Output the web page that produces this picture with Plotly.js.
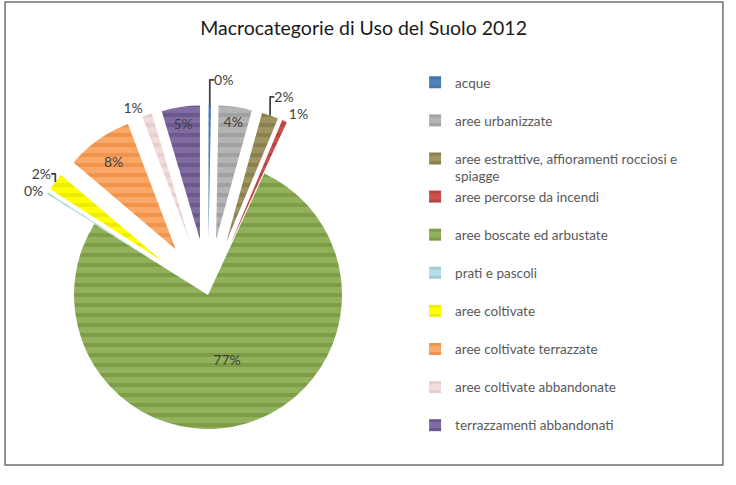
<!DOCTYPE html>
<html>
<head>
<meta charset="utf-8">
<script src="https://cdn.plot.ly/plotly-3.0.1.min.js"></script>
<style>
html,body{margin:0;padding:0;background:#fff;overflow:hidden;}
#chart{width:736px;height:485px;}
</style>
</head>
<body>
<div id="chart"></div>
<script>
var labels = [
  "acque",
  "aree urbanizzate",
  "aree estrattive, affioramenti rocciosi e<br>spiagge",
  "aree percorse da incendi",
  "aree boscate ed arbustate",
  "prati e pascoli",
  "aree coltivate",
  "aree coltivate terrazzate",
  "aree coltivate abbandonate",
  "terrazzamenti abbandonati"
];
var values = [0.3, 4.0, 2.0, 0.6, 77.0, 0.2, 2.1, 8.0, 1.2, 4.6];
var colors = ["#4F81BD", "#B4B4B4", "#9E9462", "#C9504D", "#92B15D", "#B7DEE8", "#FFFF00", "#FAA868", "#F2DCDB", "#806CA0"];
var stripe = ["#3F6EA8", "#989898", "#827846", "#B04040", "#76923C", "#9CC8D4", "#E6E600", "#EC8A3E", "#E2C8C7", "#634E86"];
var pulls = [0.418, 0.418, 0.418, 0.418, 0, 0.418, 0.418, 0.418, 0.418, 0.418];
var textpos = ["outside", "inside", "outside", "outside", "inside", "outside", "outside", "inside", "outside", "inside"];

// single-line legend entries get a blank second line so every entry has the same height
var names = labels.map(function(l){ return l.indexOf("<br>") >= 0 ? l : l + "<br>\u00a0"; });

var trace = {
  type: "pie",
  labels: names,
  values: values,
  sort: false,
  direction: "clockwise",
  rotation: 0,
  pull: pulls,
  marker: {
    colors: colors,
    line: {width: 0},
    pattern: {shape: "-", fillmode: "overlay", fgcolor: stripe, fgopacity: 0.7, size: 10, solidity: 0.4}
  },
  texttemplate: "%{percent:.0%}",
  textposition: textpos,
  insidetextorientation: "horizontal",
  textfont: {family: "Lato, 'Open Sans', sans-serif", size: 14, color: "#404040"},
  insidetextfont: {family: "Lato, 'Open Sans', sans-serif", size: 14, color: "#404040"},
  outsidetextfont: {family: "Lato, 'Open Sans', sans-serif", size: 14, color: "#404040"},
  domain: {x: [0, 1], y: [0, 1]},
  automargin: false,
  hoverinfo: "label+percent"
};

var layout = {
  width: 736,
  height: 485,
  paper_bgcolor: "#ffffff",
  margin: {l: 18, r: 338, t: 105, b: 0, autoexpand: false},
  title: {
    text: "Macrocategorie di Uso del Suolo 2012",
    font: {family: "Lato, 'Open Sans', sans-serif", size: 19.5, color: "#1a1a1a"},
    x: 0.494, xref: "container", xanchor: "center",
    y: 0.942, yref: "container", yanchor: "middle"
  },
  showlegend: true,
  legend: {
    x: 1.045, xanchor: "left",
    y: 1.1, yanchor: "top",
    valign: "top",
    maxheight: 440,
    font: {family: "Lato, 'Open Sans', sans-serif", size: 13.5, color: "#595959"},
    bgcolor: "rgba(0,0,0,0)",
    traceorder: "normal"
  },
  shapes: [{
    type: "rect", xref: "paper", yref: "paper",
    x0: -0.034, x1: 1.855, y0: 0.0526, y1: 1.271,
    line: {color: "#6f6f6f", width: 1.5},
    fillcolor: "rgba(0,0,0,0)", layer: "below"
  }]
};

Plotly.newPlot("chart", [trace], layout, {displayModeBar: false, staticPlot: true});
</script>
</body>
</html>
